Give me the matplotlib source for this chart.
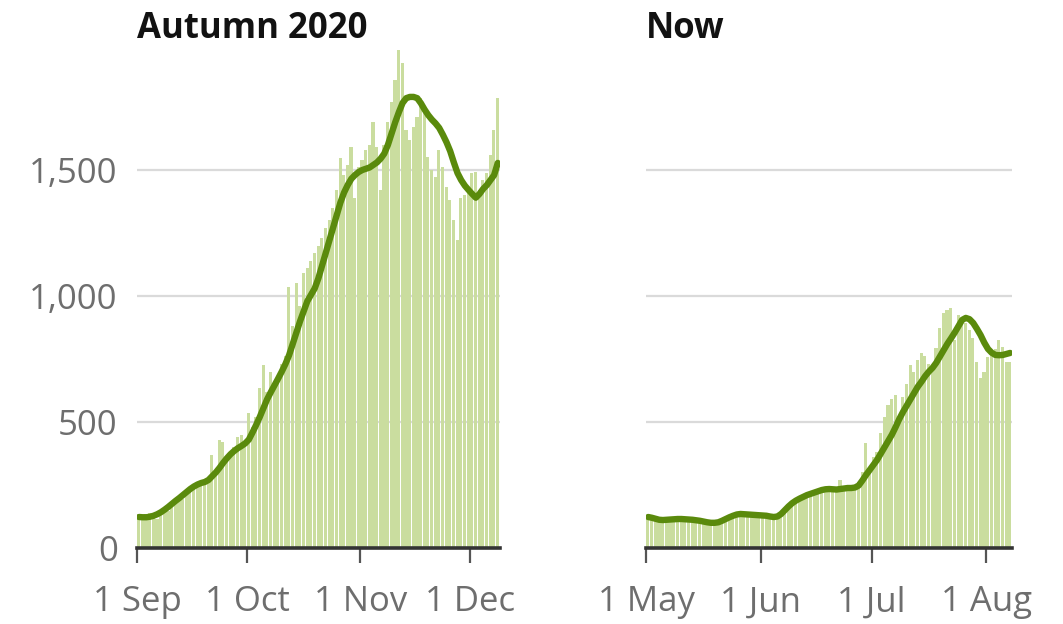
import matplotlib.pyplot as plt
import numpy as np

# daily values, left: 1 Sep - 8 Dec 2020, right: 1 May - 7 Aug
autumn_daily = [
    130, 125, 135, 140, 120, 115, 140, 150, 145, 170,
    190, 200, 195, 210, 230, 240, 245, 250, 255, 260,
    370, 300, 430, 420, 350, 380, 400, 440, 450, 410,
    535, 480, 520, 635, 726, 620, 700, 640, 680, 730,
    760, 1036, 880, 1051, 960, 1090, 1110, 1140, 1170, 1200,
    1230, 1270, 1300, 1350, 1421, 1548, 1480, 1520, 1591, 1389,
    1512, 1540, 1579, 1600, 1690, 1591, 1421, 1600, 1690, 1770,
    1857, 1976, 1925, 1659, 1619, 1671, 1710, 1786, 1730, 1552,
    1500, 1472, 1579, 1512, 1433, 1381, 1300, 1222, 1389, 1400,
    1421, 1488, 1492, 1421, 1460, 1488, 1560, 1659, 1786,
]
autumn_avg = [
    123, 122, 122, 124, 128, 134, 142, 152, 163, 175,
    187, 198, 210, 222, 234, 244, 252, 258, 262, 270,
    285, 300, 318, 338, 356, 372, 385, 396, 405, 415,
    430, 458, 488, 520, 555, 590, 618, 645, 672, 700,
    730, 765, 810, 855, 900, 940, 980, 1005, 1030, 1070,
    1120, 1170, 1220, 1270, 1320, 1370, 1410, 1440, 1465, 1480,
    1492, 1500, 1505, 1510, 1520, 1530, 1545, 1565, 1600, 1645,
    1690, 1730, 1766, 1785, 1790, 1790, 1785, 1765, 1740, 1718,
    1700, 1685, 1667, 1640, 1610, 1575, 1530, 1488, 1460, 1438,
    1421, 1405, 1390, 1405, 1425, 1440, 1460, 1480, 1528,
]
now_daily = [
    125, 118, 110, 112, 115, 118, 112, 110, 120, 118,
    115, 112, 110, 108, 112, 105, 100, 98, 102, 108,
    112, 120, 128, 132, 130, 138, 135, 130, 128, 132,
    130, 125, 128, 135, 122, 128, 140, 160, 172, 185,
    195, 190, 205, 215, 212, 225, 222, 232, 240, 238,
    230, 236, 270, 235, 240, 232, 245, 260, 300, 417,
    320, 360, 380, 456, 520, 567, 590, 607, 520, 600,
    650, 726, 700, 746, 774, 760, 730, 718, 794, 873,
    933, 944, 952, 825, 924, 900, 893, 865, 833, 738,
    675, 700, 758, 786, 790, 825, 798, 738, 738,
]
now_avg = [
    123, 120, 116, 112, 111, 112, 113, 114, 115, 115,
    114, 113, 112, 110, 108, 105, 102, 100, 100, 102,
    108, 115, 122, 128, 133, 135, 134, 133, 132, 131,
    130, 129, 128, 125, 123, 125, 135, 150, 165, 178,
    188, 196, 203, 210, 215, 220, 225, 230, 233, 234,
    233, 232, 234, 236, 238, 238, 240, 248, 268, 290,
    310, 330, 350, 375, 400, 425, 450, 480, 512, 540,
    565, 590, 615, 640, 660, 682, 700, 715, 735, 760,
    785, 810, 832, 855, 880, 905, 913, 908, 893, 870,
    845, 815, 790, 775, 766, 765, 766, 770, 774,
]

autumn_ticks = [0, 30, 61, 91]
autumn_labels = ['1 Sep', '1 Oct', '1 Nov', '1 Dec']
now_ticks = [0, 31, 61, 92]
now_labels = ['1 May', '1 Jun', '1 Jul', '1 Aug']
y_ticks = [0, 500, 1000, 1500]
y_labels = ['0', '500', '1,000', '1,500']

bar_col = '#cadd9f'
line_col = '#5a8a0c'
grey = '#6e6e6e'

plt.rcParams['font.family'] = ['Open Sans', 'DejaVu Sans']

fig = plt.figure(figsize=(10.63, 6.24), dpi=100)
ax1 = fig.add_axes([0.129, 0.1218, 0.341, 0.8077])
ax2 = fig.add_axes([0.608, 0.1218, 0.344, 0.8077])

panels = [
    (ax1, autumn_daily, autumn_avg, autumn_ticks, autumn_labels, 'Autumn 2020'),
    (ax2, now_daily, now_avg, now_ticks, now_labels, 'Now'),
]
for ax, daily, avg, ticks, labels, title in panels:
    x = np.arange(len(daily))
    ax.bar(x, daily, width=0.85, align='edge', color=bar_col, zorder=2)
    ax.plot(x + 0.5, avg, color=line_col, lw=4.6, solid_capstyle='round', zorder=3)
    ax.set_xlim(0, len(daily))
    ax.set_ylim(0, 2000)
    for yv in y_ticks[1:]:
        ax.axhline(yv, color='#dadada', lw=1.6, zorder=1)
    for s in ['top', 'right', 'left']:
        ax.spines[s].set_visible(False)
    ax.spines['bottom'].set_color('#333333')
    ax.spines['bottom'].set_linewidth(2.6)
    ax.spines['bottom'].set_zorder(4)
    ax.set_xticks(ticks)
    ax.set_xticklabels(labels)
    ax.tick_params(axis='x', length=11, width=1.6, color='#555555',
                   labelsize=25, labelcolor=grey, pad=16)
    ax.set_yticks(y_ticks)
    ax.tick_params(axis='y', length=0, labelsize=25, labelcolor=grey, pad=14)
    pos = ax.get_position()
    fig.text(pos.x0, 0.939, title, fontsize=25, fontweight='bold',
             color='#121212', va='baseline', ha='left')

ax1.set_yticklabels(y_labels)
ax2.set_yticklabels([])

fig.savefig('out.png', dpi=100)
